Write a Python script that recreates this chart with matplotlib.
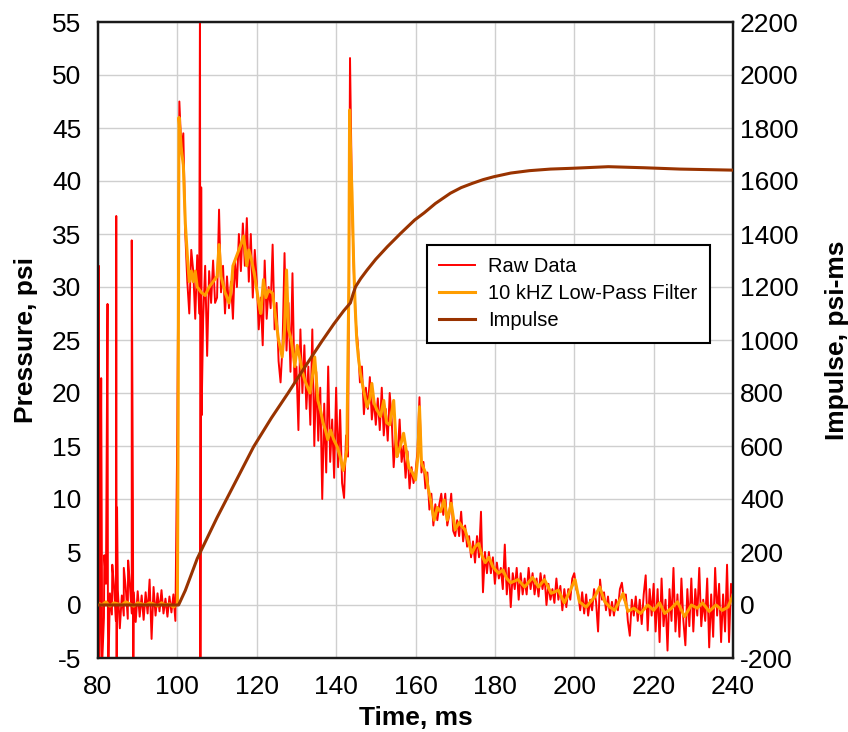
import numpy as np
import matplotlib
matplotlib.use("Agg")
from matplotlib import pyplot as plt

plt.rcParams['font.family'] = ['Liberation Sans', 'DejaVu Sans']
plt.rcParams['axes.unicode_minus'] = False

# raw pressure, sampled every 0.5 ms from 80 to 240 ms (psi)
raw_start, raw_step = 80.0, 0.5
raw_psi = [
    # 80 - 89.5
    0.8, -2.1, 1.5, -1.2, 2.0, -1.8, 1.1, -0.9, 1.9, -1.5, 1.4, -2.2, 0.9, -1.0, 1.6, -1.3, 2.1, -0.8, 1.2, -1.6,
    # 90 - 99.5
    1.3, -1.1, 0.9, -1.4, 1.2, -0.8, 2.4, -3.2, 1.7, -1.0, 1.1, -0.6, 1.4, -0.8, 0.6, -1.1, 0.8, -0.7, 1.0, -1.5,
    # 100 - 109.5
    17.0, 47.5, 43.0, 44.5, 35.0, 30.5, 27.5, 33.5, 31.5, 27.0, 33.0, 27.5, 31.0, 27.0, 32.0, 23.5, 31.5, 28.5, 32.5, 28.5,
    # 110 - 119.5
    29.0, 37.3, 29.5, 32.0, 27.5, 31.0, 28.0, 30.5, 27.0, 32.5, 30.0, 35.0, 31.5, 36.0, 32.0, 36.5, 30.5, 35.0, 29.0, 33.5,
    # 120 - 129.5
    30.5, 26.0, 29.0, 24.5, 32.5, 27.0, 30.0, 28.0, 34.0, 26.0, 28.5, 23.0, 21.0, 24.5, 33.2, 24.0, 28.5, 22.0, 31.3, 21.0,
    # 130 - 139.5
    22.5, 16.5, 26.0, 20.0, 24.5, 18.5, 22.5, 17.0, 26.0, 15.0, 22.0, 15.5, 20.5, 10.0, 19.0, 12.5, 22.5, 13.5, 17.5, 12.0,
    # 140 - 149.5
    20.5, 13.0, 18.4, 11.5, 10.1, 16.0, 14.0, 51.6, 38.0, 31.0, 26.5, 24.5, 21.0, 22.5, 18.0, 20.5, 18.5, 21.5, 17.5, 19.5,
    # 150 - 159.5
    17.0, 19.5, 16.5, 20.5, 16.0, 18.5, 15.5, 20.0, 17.5, 13.0, 16.0, 14.0, 17.5, 13.5, 15.0, 12.0, 14.5, 11.0, 13.0, 11.5,
    # 160 - 169.5
    12.5, 14.5, 19.6, 12.5, 13.5, 11.0, 12.5, 9.0, 10.5, 7.5, 9.5, 8.0, 9.5, 10.5, 8.5, 10.5, 7.5, 8.5, 10.5, 7.0,
    # 170 - 179.5
    6.5, 8.0, 6.5, 8.8, 6.0, 7.5, 5.5, 6.5, 4.5, 6.0, 4.0, 6.5, 4.5, 8.8, 1.2, 5.0, 3.0, 5.0, 3.0, 4.5,
    # 180 - 189.5
    2.0, 4.0, 2.5, 3.5, 1.5, 5.7, 1.0, 3.5, -0.2, 3.0, 1.5, 3.5, 0.5, 3.0, 1.0, 2.5, 1.0, 3.5, 1.5, 3.0,
    # 190 - 199.5
    1.0, 2.5, 0.8, 3.0, 1.5, 2.8, 0.0, 2.0, 0.5, 1.5, 0.2, 2.5, 0.5, 1.8, -0.5, 1.5, -0.2, 1.5, 0.5, 2.5,
    # 200 - 209.5
    3.0, 1.5, 1.0, -0.5, 1.2, -0.8, 1.0, -1.0, 0.5, -0.5, 1.5, 0.3, -2.5, 2.4, 0.5, 1.2, -0.5, 0.8, -1.0, 0.3,
    # 210 - 219.5
    -1.0, 0.5, -0.5, 1.5, 2.1, 0.5, 1.0, -1.5, -2.9, 0.5, -1.0, 0.8, -1.5, 0.5, -1.8, 1.0, 2.8, -2.4, 1.5, -1.0,
    # 220 - 229.5
    2.0, -2.5, 1.5, -3.5, 2.5, -2.0, 0.5, -4.3, 1.5, -1.5, 3.5, -2.5, 1.0, -3.0, 2.5, -1.5, -3.8, 1.5, -2.0, 2.5,
    # 230 - 240
    -2.5, 1.5, -1.0, 3.5, -2.0, 0.5, -1.5, 2.5, -4.0, 1.0, -3.0, 3.5, -1.0, 2.0, -3.5, 1.0, -2.5, 3.8, -3.5, 2.0, 1.0,
]

# single-sample spikes in the raw record (ms, psi)
spike_ms = [80.2, 80.3, 80.8, 81.0, 81.6, 82.4, 82.6, 83.6, 84.6, 84.7, 84.8, 86.5, 87.6, 88.5, 88.8, 88.9,
            105.7, 105.8, 106.0, 106.1]
spike_psi = [32.0, -6.5, 21.4, -6.0, 4.7, 28.4, -6.5, 3.8, 36.7, -6.5, 9.2, 3.5, 4.2, 34.4, 9.2, -6.5,
             58.0, -6.5, 39.4, 17.9]

# 10 kHz low-pass filtered pressure
filt_ms = [80, 81, 82, 83, 84, 85, 86, 87, 88, 89, 90, 91, 92, 93, 94, 95, 96, 97, 98, 99, 100,
           100.2, 100.4, 100.6, 101.0, 101.5, 102, 102.5, 103, 103.5, 104, 104.5, 105, 106, 107, 108, 109,
           110, 110.5, 111, 112, 113, 113.5, 114, 115, 116, 116.7, 117.5, 118, 118.7, 119.5,
           120.5, 121, 121.7, 122.3, 123, 124, 124.8, 125.5, 126.4, 127, 127.5, 128, 128.7, 129.6,
           130.2, 130.8, 131.5, 132.1, 133.4, 134, 134.6, 135.4, 136, 136.7, 137.3, 137.9, 138.6, 139.4,
           140.3, 141, 141.8, 142.7, 143.2, 143.4, 143.7, 144, 144.4, 144.8, 145.2, 145.6, 146.1, 146.9,
           147.8, 148.5, 149, 149.6, 150.3, 151.2, 152, 152.7, 153.5, 154.5, 155.3, 156.2, 157, 157.7,
           158.3, 159.2, 160, 160.6, 161.0, 161.5, 162.6, 163.2, 163.8, 164.7, 165.5, 166.3, 167.2, 168,
           169, 170, 171, 171.7, 172.5, 173.3, 174.2, 175, 175.9, 176.8, 177.6, 178.5, 179.5, 180.9,
           182, 183, 184, 185.8, 187.5, 189.5, 191, 192.5, 194.2, 196, 197.5, 199, 200.2, 201.3, 203,
           205.2, 206.4, 207.7, 209, 210.2, 212.3, 213.5, 215, 216.7, 218.5, 220, 221.5, 222.8, 224.5,
           226, 227.8, 229.5, 231, 232.3, 234, 235.7, 237.3, 238.7, 240]
filt_psi = [0.2, 0.0, 0.3, -0.1, 0.2, 0.1, 0.0, 0.3, 0.1, -0.1, 0.2, 0.1, 0.0, 0.2, 0.1, -0.1, 0.2, 0.0, 0.1, -0.2, 0.1,
            18.0, 46.0, 45.0, 43.0, 41.5, 36.0, 33.0, 30.5, 31.5, 30.5, 31.5, 30.0, 29.5, 29.2, 30.0, 30.5,
            31.0, 34.0, 31.0, 29.5, 28.5, 29.5, 32.0, 33.0, 34.0, 34.8, 32.0, 33.5, 32.5, 31.0,
            28.5, 27.5, 30.7, 29.0, 29.7, 29.4, 27.0, 25.0, 23.4, 26.0, 31.6, 26.0, 25.0, 22.5,
            24.5, 23.4, 22.0, 21.2, 20.0, 21.5, 23.4, 19.3, 18.5, 17.2, 16.5, 15.6, 16.5, 15.6,
            14.9, 14.0, 12.7, 14.6, 30.0, 46.7, 42.0, 38.9, 32.5, 28.1, 25.0, 23.4, 21.9, 20.3,
            18.7, 19.5, 20.9, 19.0, 18.4, 17.8, 19.3, 17.2, 17.0, 19.3, 14.0, 15.0, 16.2, 14.5,
            13.0, 12.5, 11.8, 14.0, 18.7, 13.4, 12.4, 11.0, 9.9, 8.0, 9.2, 8.8, 9.9, 8.0,
            9.6, 7.1, 7.8, 7.4, 7.1, 6.0, 4.9, 5.5, 5.8, 4.6, 4.0, 4.5, 3.6, 3.0,
            3.3, 2.5, 2.1, 2.4, 1.7, 2.6, 1.7, 2.4, 1.1, 1.4, 0.2, 1.4, 2.4, 0.3, -0.2,
            0.8, 1.7, 0.3, -0.2, -0.5, 1.1, -0.6, -0.3, -0.8, 0.0, -0.5, 0.2, -0.8, -0.3,
            0.3, -1.1, 0.0, -0.3, 0.2, -0.6, 0.0, -0.5, -0.2, 0.9]

# cumulative impulse (psi-ms)
imp_ms = [80, 100.3, 102, 105, 110, 115, 119.2, 123.7, 127.9, 132, 136.4, 139.4, 141.9, 143.6, 144.3,
          144.9, 146.2, 147.8, 150, 152.9, 156.3, 159.8, 162.2, 165, 168.8, 171.5, 174.3, 177, 179.7,
          184, 188.7, 194, 199.5, 208.6, 217.6, 226.6, 240]
imp_val = [0, 0, 55, 175, 330, 475, 597, 706, 800, 895, 995, 1060, 1110, 1140, 1175,
           1201, 1232, 1264, 1305, 1352, 1403, 1453, 1480, 1515, 1554, 1575, 1591, 1605, 1616,
           1630, 1639, 1645, 1648, 1654, 1650, 1645, 1641]

# merge the regular samples with the spikes
raw_ms = raw_start + raw_step * np.arange(len(raw_psi))
t_all = np.concatenate([raw_ms, spike_ms])
p_all = np.concatenate([raw_psi, spike_psi])
order = np.argsort(t_all, kind='stable')
t_all, p_all = t_all[order], p_all[order]

fig = plt.figure(figsize=(8.48, 7.32), dpi=100)
ax = fig.add_axes([98 / 848, 1 - 658 / 732, (733 - 98) / 848, (658 - 22) / 732])
ax2 = ax.twinx()

l_raw, = ax.plot(t_all, p_all, color='#FF0000', linewidth=1.4, zorder=3)
l_filt, = ax.plot(filt_ms, filt_psi, color='#FF9D00', linewidth=2.2, zorder=4)
l_imp, = ax2.plot(imp_ms, imp_val, color='#993300', linewidth=2.2, zorder=5)

ax.set_xlim(80, 240)
ax.set_ylim(-5, 55)
ax2.set_ylim(-200, 2200)
ax.set_xticks(np.arange(80, 241, 20))
ax.set_yticks(np.arange(-5, 56, 5))
ax2.set_yticks(np.arange(-200, 2201, 200))

ax.grid(True, color='#CFCFCF', linewidth=1.0, zorder=0)
ax.set_axisbelow(True)

for a in (ax, ax2):
    for s in a.spines.values():
        s.set_color('#1a1a1a')
        s.set_linewidth(1.6)
ax.tick_params(axis='both', length=0, labelsize=19)
ax.tick_params(axis='y', pad=12)
ax.tick_params(axis='x', pad=12)
ax2.tick_params(axis='y', length=0, labelsize=19, pad=5)

ax.set_xlabel('Time, ms', fontsize=19, fontweight='bold', labelpad=5)
ax.set_ylabel('Pressure, psi', fontsize=19, fontweight='bold', labelpad=10)
ax2.set_ylabel('Impulse, psi-ms', fontsize=19, fontweight='bold', labelpad=19)

leg = ax2.legend([l_raw, l_filt, l_imp], ['Raw Data', '10 kHZ Low-Pass Filter', 'Impulse'],
                 loc='upper left', bbox_to_anchor=(0.518, 0.649), borderaxespad=0,
                 fontsize=14.5, fancybox=False, framealpha=1, edgecolor='black',
                 handlelength=1.8, handletextpad=0.65, labelspacing=0.4, borderpad=0.6)
leg.get_frame().set_linewidth(1.5)

fig.savefig('out.png', dpi=100)
